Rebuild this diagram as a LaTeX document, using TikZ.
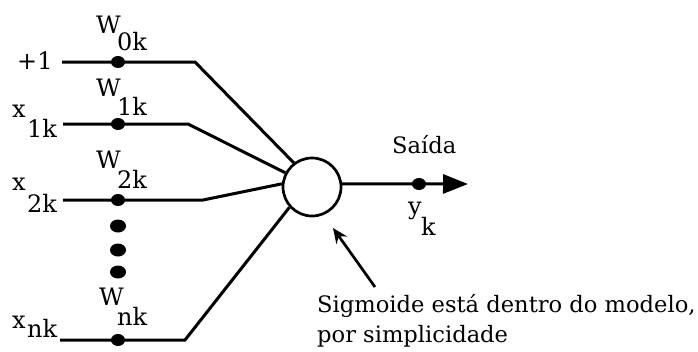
\documentclass[tikz,border=0pt]{standalone}
\usepackage{fontspec}
\setmainfont{DejaVu Serif}
\usetikzlibrary{arrows.meta,shapes.geometric}
\begin{document}
\begin{tikzpicture}[x=1pt,y=-1pt,
  wire/.style={line width=3pt},
  dotn/.style={ellipse,fill=black,inner sep=0pt,minimum width=14pt,minimum height=12pt},
  bigdot/.style={ellipse,fill=black,inner sep=0pt,minimum width=16pt,minimum height=13pt},
  txt/.style={inner sep=0pt,anchor=base west,font=\fontsize{22.6}{27}\selectfont},
  lbl/.style={inner sep=0pt,anchor=base west,font=\fontsize{24}{28}\selectfont}]
\useasboundingbox (0,0) rectangle (698,351);
\fill[white] (0,0) rectangle (698,351);

% neuron
\node[circle,draw,line width=2.7pt,minimum size=58pt,inner sep=0pt] (c) at (312,187) {};

% input wires
\coordinate (s0) at (62,62);  \coordinate (b0) at (195,62);
\coordinate (s1) at (63,124); \coordinate (b1) at (188,124);
\coordinate (s2) at (63,200); \coordinate (b2) at (203,200);
\coordinate (s3) at (60,340); \coordinate (b3) at (185,340);
\draw[wire] (s0) -- (b0) -- (c.127);
\draw[wire] (s1) -- (b1) -- (c.152);
\draw[wire] (s2) -- (b2) -- (c.174);
\draw[wire] (s3) -- (b3) -- (c.222);

% weight dots
\node[dotn] (d0) at (118,62) {};
\node[dotn] (d1) at (118,124) {};
\node[dotn] (d2) at (118,200) {};
\node[dotn] (d3) at (118,340) {};
\node[bigdot] (e1) at (118,226) {};
\node[bigdot] (e2) at (118,250) {};
\node[bigdot] (e3) at (118,272) {};

% output
\coordinate (tip) at (468,184);
\draw[wire,-{Triangle[length=25pt,width=19pt]}] (c.6) -- (tip);
\node[dotn] (od) at (419,184) {};

% pointer
\coordinate (pstart) at (375,287);
\coordinate (ptip) at (333,228);
\draw[line width=2.7pt,-{Stealth[length=15pt,width=13pt]}] (pstart) -- (ptip);

% labels
\node[lbl] (plus) at (17,69) {+1};
\node[lbl] (x1) at (12,117) {x}; \node[lbl] (x1s) at (27,137) {1k};
\node[lbl] (x2) at (12,190) {x}; \node[lbl] (x2s) at (27,212) {2k};
\node[lbl] (xn) at (12,328) {x}; \node[lbl] (xns) at (27,337) {nk};
\node[lbl] (w0) at (96,33) {W};  \node[lbl] (w0s) at (117,50) {0k};
\node[lbl] (w1) at (96,96) {W};  \node[lbl] (w1s) at (117,115) {1k};
\node[lbl] (w2) at (96,168) {W}; \node[lbl] (w2s) at (117,188) {2k};
\node[lbl] (wn) at (99,305) {W}; \node[lbl] (wns) at (117,325) {nk};
\node[txt] (saida) at (392,153) {Saída};
\node[lbl] (y) at (408,214) {y}; \node[lbl] (ys) at (421,235) {k};
\node[txt] (note1) at (317,312) {Sigmoide está dentro do modelo,};
\node[txt] (note2) at (317,342) {por simplicidade};
\end{tikzpicture}
\end{document}
